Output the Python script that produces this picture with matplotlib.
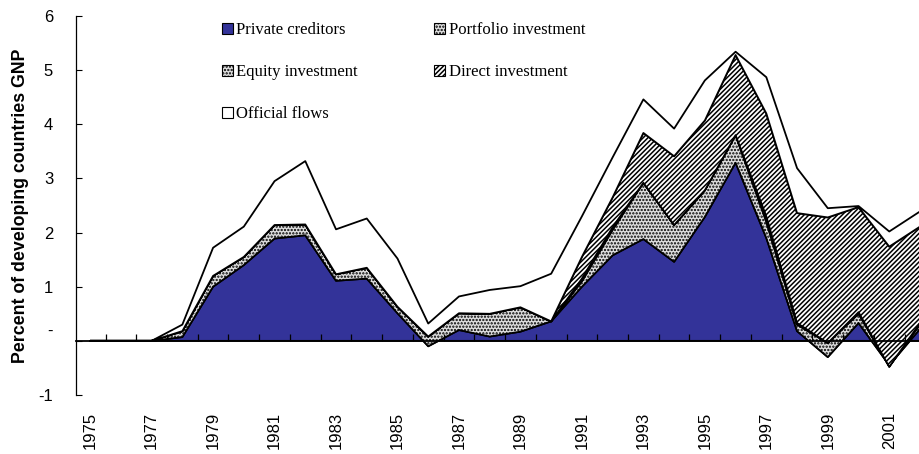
import numpy as np
import matplotlib
matplotlib.use("Agg")
import matplotlib.pyplot as plt
from matplotlib.patches import Patch
from matplotlib.transforms import ScaledTranslation

# Daten (Prozent des BSP der Entwicklungslaender)
years = np.arange(1975, 2003)

private = [0, 0, 0, 0.07, 1.00, 1.40, 1.89, 1.95, 1.11, 1.15, 0.51, -0.10, 0.20, 0.08,
           0.17, 0.36, 1.00, 1.58, 1.88, 1.46, 2.29, 3.29, 1.90, 0.18, -0.30, 0.33, -0.45, 0.22]
portfolio = [0, 0, 0, 0.11, 0.20, 0.15, 0.25, 0.20, 0.12, 0.20, 0.12, 0.18, 0.31, 0.42,
             0.45, 0, 0.10, 0.47, 1.04, 0.68, 0.49, 0.51, 0.30, 0.12, 0.26, 0.17, -0.02, 0.08]
equity = [0, 0, 0, 0, 0, 0, 0, 0, 0, 0, 0, 0, 0, 0,
          0, 0, 0.05, 0.05, 0, 0, 0, 0, 0.10, 0.03, 0, 0.03, -0.01, 0.03]
direct = [0, 0, 0, 0, 0, 0, 0, 0, 0, 0, 0, 0, 0, 0,
          0, 0, 0.40, 0.55, 0.92, 1.27, 1.29, 1.48, 1.90, 2.03, 2.32, 1.94, 2.22, 1.78]
official = [0, 0, 0, 0.12, 0.52, 0.56, 0.81, 1.17, 0.83, 0.91, 0.89, 0.24, 0.31, 0.44,
            0.39, 0.88, 0.75, 0.74, 0.62, 0.51, 0.74, 0.06, 0.67, 0.83, 0.17, 0.02, 0.28, 0.28]

labels = ["Private creditors", "Portfolio investment", "Equity investment",
          "Direct investment", "Official flows"]
blue = "#333399"
dots = "#dedede"

plt.rcParams['font.family'] = ['Liberation Sans', 'DejaVu Sans']
plt.rcParams['hatch.linewidth'] = 1.1

fig = plt.figure(figsize=(9.19, 4.54), dpi=100)
ax = fig.add_axes([76/919, 1 - 395/454, 844/919, 379/454])

ax.stackplot(years, private, portfolio, equity, direct, official,
             colors=[blue, dots, dots, "white", "white"],
             hatch=["", ".....", ".....", "///////", ""],
             edgecolor="black", linewidth=1.3)

ax.set_xlim(1974.54, 2002.0)
ax.set_ylim(-1, 6)

# y-Achse
ax.set_yticks(range(-1, 7))
ax.set_yticklabels(["-1", "-", "1", "2", "3", "4", "5", "6"], fontsize=12)
ax.tick_params(axis="y", direction="in", length=4.5, width=0.8, pad=16.5)
zero_lbl = ax.get_yticklabels()[1]
zero_lbl.set_transform(zero_lbl.get_transform() + ScaledTranslation(0, 8/72, fig.dpi_scale_trans))
ax.set_ylabel("Percent of developing countries GNP", fontsize=12.8, fontweight="bold")
ax.yaxis.set_label_coords(-0.0555, 0.5)

# x-Beschriftung unten
ax.set_xticks(years[::2])
ax.set_xticklabels([str(y) for y in years[::2]], rotation=90, fontsize=12)
ax.tick_params(axis="x", length=0, pad=12)

for s in ["top", "right", "bottom"]:
    ax.spines[s].set_visible(False)
ax.spines["left"].set_linewidth(0.9)

# Achse bei y = 0 mit Teilstrichen zwischen den Jahren
sec = ax.secondary_xaxis(1/7)
sec.set_xticks(years[:-1] + 0.5)
sec.tick_params(direction="in", length=5, width=0.9, labelbottom=False)
sec.spines["bottom"].set_linewidth(1.3)
sec.set_zorder(5)

h_private = Patch(facecolor=blue, edgecolor="black", linewidth=0.8)
h_portfolio = Patch(facecolor=dots, edgecolor="black", hatch=".....", linewidth=0.8)
h_equity = Patch(facecolor=dots, edgecolor="black", hatch=".....", linewidth=0.8)
h_direct = Patch(facecolor="white", edgecolor="black", hatch="///////", linewidth=0.8)
h_official = Patch(facecolor="white", edgecolor="black", linewidth=0.8)

# Spaltenweise: links Private/Equity/Official, rechts Portfolio/Direct
fig.legend([h_private, h_equity, h_official, h_portfolio, h_direct],
           [labels[0], labels[2], labels[4], labels[1], labels[3]],
           ncol=2, loc="upper left", bbox_to_anchor=(222/919, 1 - 22/454),
           frameon=False, borderpad=0, borderaxespad=0,
           handlelength=0.65, handleheight=0.65, handletextpad=0.2,
           labelspacing=1.56, columnspacing=4.6,
           prop={"family": "Liberation Serif", "size": 12})

fig.savefig("out.png", dpi=100)
